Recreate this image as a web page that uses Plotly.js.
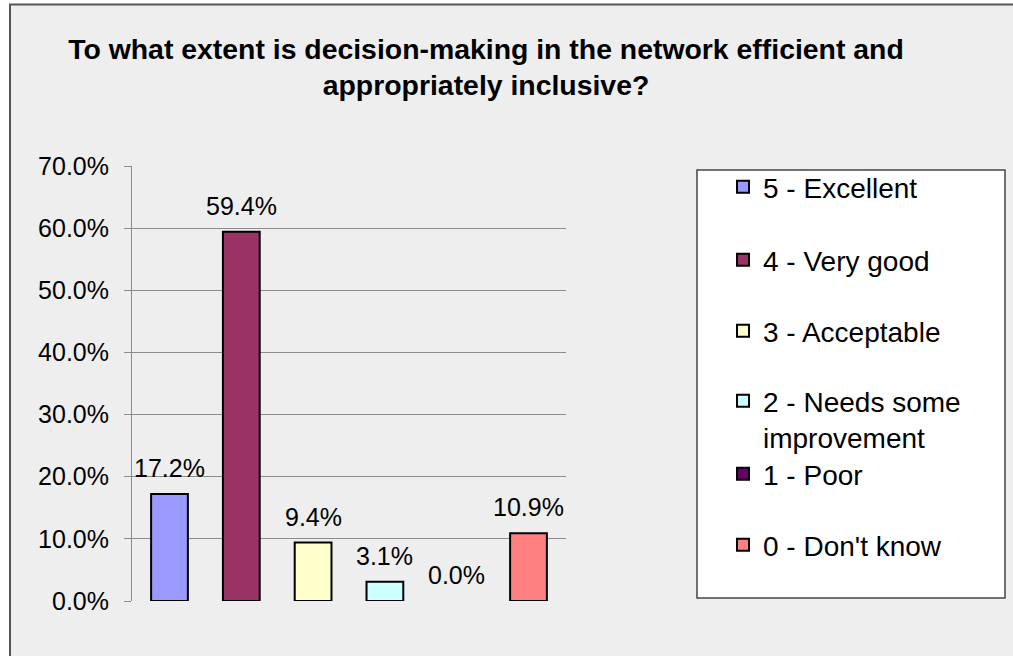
<!DOCTYPE html>
<html>
<head>
<meta charset="utf-8">
<script src="https://cdn.plot.ly/plotly-3.0.1.min.js"></script>
<style>
  html, body { margin: 0; padding: 0; background: #ffffff; }
  #chart { width: 1013px; height: 656px; }
</style>
</head>
<body>
<div id="chart"></div>
<script>
// Survey answers and the share of respondents choosing each one
const categories = [
  '5 - Excellent',
  '4 - Very good',
  '3 - Acceptable',
  '2 - Needs some<br>improvement',
  '1 - Poor',
  "0 - Don't know"
];
const shares = [0.172, 0.594, 0.094, 0.031, 0.0, 0.109];
const barColors = ['#9999FF', '#993366', '#FFFFCC', '#CCFFFF', '#660066', '#FF8080'];

const yTickValues = [0, 0.1, 0.2, 0.3, 0.4, 0.5, 0.6, 0.7];
const titleText = 'To what extent is decision-making in the network efficient and<br>appropriately inclusive?';

// page geometry (px)
const W = 1013, H = 656;
const M = { l: 132, r: 447, t: 166, b: 55 };
const plotW = W - M.l - M.r, plotH = H - M.t - M.b;
const px2paperX = x => (x - M.l) / plotW;
const px2paperY = y => (H - M.b - y) / plotH;

const FONT = 'Liberation Sans, Arial, sans-serif';
const GRID = '#8c8c8c';

// one trace per answer so each one gets its own legend entry;
// a zero share leaves no bar (and no outline) on the baseline
const traces = categories.map((cat, i) => ({
  type: 'bar',
  name: cat,
  x: [cat],
  y: [shares[i] > 0 ? shares[i] : null],
  legend: i === 0 ? 'legend' : 'legend' + (i + 1),
  marker: {
    color: barColors[i],
    line: { color: '#000000', width: 2 }
  },
  hovertemplate: '%{y:.1%}<extra>' + cat + '</extra>'
}));

// legend rows, centre of each entry in px from the top
const legendRows = [187, 260, 331, 419, 474, 545];
const legendLeft = 723;

const layout = {
  width: W,
  height: H,
  margin: M,
  paper_bgcolor: '#ffffff',
  plot_bgcolor: 'rgba(0,0,0,0)',
  barmode: 'overlay',
  bargap: 0.488,
  font: { family: FONT, color: '#000000', size: 25 },
  title: {
    text: titleText,
    font: { family: FONT, size: 28.4, color: '#000000', weight: 'bold' },
    xref: 'container', yref: 'container',
    x: 486 / W, xanchor: 'center',
    y: 1 - 58.5 / H, yanchor: 'middle'
  },
  xaxis: {
    type: 'category',
    categoryorder: 'array',
    categoryarray: categories,
    showticklabels: false,
    ticks: '',
    showgrid: false,
    showline: false,
    zeroline: false,
    fixedrange: true
  },
  yaxis: {
    range: [0, 0.7],
    tickvals: yTickValues,
    tickformat: '.1%',
    ticks: 'outside',
    ticklen: 7,
    tickwidth: 1,
    tickcolor: GRID,
    ticklabelstandoff: 10,
    tickfont: { family: FONT, size: 25, color: '#000000' },
    showgrid: true,
    gridcolor: GRID,
    gridwidth: 1,
    showline: true,
    linecolor: GRID,
    linewidth: 1,
    zeroline: false,
    fixedrange: true
  },
  shapes: [
    // chart frame
    {
      type: 'rect', layer: 'below', xref: 'paper', yref: 'paper',
      x0: px2paperX(10), x1: px2paperX(W + 20),
      y0: px2paperY(H + 20), y1: px2paperY(4.5),
      fillcolor: '#eeeeee', line: { color: '#555555', width: 2 }
    },
    // legend box
    {
      type: 'rect', layer: 'below', xref: 'paper', yref: 'paper',
      x0: px2paperX(697), x1: px2paperX(1005),
      y0: px2paperY(598), y1: px2paperY(170),
      fillcolor: '#ffffff', line: { color: '#444444', width: 1.5 }
    }
  ],
  annotations: categories.map((cat, i) => ({
    x: cat, y: shares[i], xref: 'x', yref: 'y',
    text: (shares[i] * 100).toFixed(1) + '%',
    showarrow: false,
    yanchor: 'middle', yshift: 26,
    font: { family: FONT, size: 25, color: '#000000' }
  })),
  showlegend: true
};

// individual legends, one entry each, stacked down the legend box
legendRows.forEach((yPx, i) => {
  const key = i === 0 ? 'legend' : 'legend' + (i + 1);
  layout[key] = {
    xref: 'container', yref: 'container',
    x: legendLeft / W, xanchor: 'left',
    y: 1 - yPx / H, yanchor: 'middle',
    bgcolor: 'rgba(0,0,0,0)',
    borderwidth: 0,
    valign: 'top',
    font: { family: FONT, size: 28, color: '#000000' }
  };
});

Plotly.newPlot('chart', traces, layout, { displayModeBar: false, staticPlot: true });
</script>
</body>
</html>
